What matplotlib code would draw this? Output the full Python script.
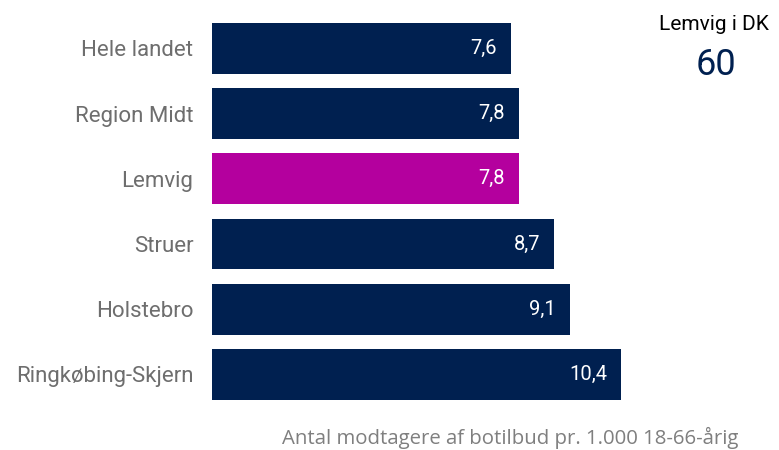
import matplotlib
matplotlib.use("Agg")
import matplotlib.pyplot as plt

categories = ["Hele landet", "Region Midt", "Lemvig", "Struer", "Holstebro", "Ringkøbing-Skjern"]
values = [7.6, 7.8, 7.8, 8.7, 9.1, 10.4]
value_labels = ["7,6", "7,8", "7,8", "8,7", "9,1", "10,4"]
highlight = "Lemvig"
rank_title = "Lemvig i DK"
rank_value = "60"
caption = "Antal modtagere af botilbud pr. 1.000 18-66-årig"

navy = "#002050"
magenta = "#B4009E"
label_grey = "#6E6E6E"

fig = plt.figure(figsize=(7.79, 4.5), dpi=100)
left = 212 / 779
xmax = 11.0
px_per_unit = (621 - 212) / 10.4
width = xmax * px_per_unit / 779
ax = fig.add_axes([left, 0.0956, width, 0.965 - 0.0956])

ypos = list(range(len(categories)))
colors = [magenta if c == highlight else navy for c in categories]
ax.barh(ypos, values, height=0.78, color=colors)
ax.set_xlim(0, xmax)
ax.set_ylim(len(categories) - 0.5, -0.5)
ax.set_yticks(ypos)
ax.set_yticklabels(categories, fontsize=16, color=label_grey, family="Roboto")
ax.tick_params(axis="y", length=0, pad=13.5)
ax.set_xticks([])
for s in ax.spines.values():
    s.set_visible(False)

for y, v, lab in zip(ypos, values, value_labels):
    ax.annotate(lab, xy=(v, y), xytext=(-10, 0), textcoords="offset points",
                ha="right", va="center", color="white", fontsize=14.5, family="Roboto")

fig.text(714 / 779, 1 - 24 / 450, rank_title, ha="center", va="center",
         fontsize=15, color="black", family="Roboto")
fig.text(716 / 779, 1 - 65 / 450, rank_value, ha="center", va="center",
         fontsize=26, color=navy, family="Roboto")
fig.text(738 / 779, 1 - 438 / 450, caption, ha="right", va="center",
         fontsize=14.7, color="#7F7F7F", family="Open Sans")

fig.savefig("out.png", dpi=100)
